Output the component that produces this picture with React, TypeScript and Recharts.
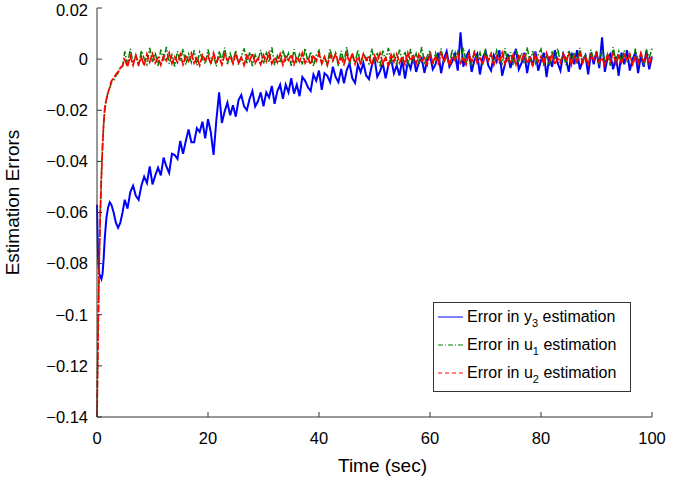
import { LineChart, Line, XAxis, YAxis, Legend, Label } from 'recharts'

// sample times (sec) – denser at the start where the errors move fast
const times = [
  0, 0.2, 0.4, 0.6, 0.8, 1, 1.2, 1.4, 1.7, 2, 2.3, 2.6, 3, 3.4, 3.8, 4.2, 4.6,
  5, 5.5, 6, 6.5, 7, 7.5, 8, 8.5, 9, 9.5,
  10, 10.5, 11, 11.5, 12, 12.5, 13, 13.5, 14, 14.5,
  15, 15.5, 16, 16.5, 17, 17.5, 18, 18.5, 19, 19.5,
  20, 20.5, 21, 21.5, 22, 22.5, 23, 23.5, 24, 24.5,
  25, 25.5, 26, 26.5, 27, 27.5, 28, 28.5, 29, 29.5,
  30, 30.5, 31, 31.5, 32, 32.5, 33, 33.5, 34, 34.5,
  35, 35.5, 36, 36.5, 37, 37.5, 38, 38.5, 39, 39.5,
  40, 40.5, 41, 41.5, 42, 42.5, 43, 43.5, 44, 44.5,
  45, 45.5, 46, 46.5, 47, 47.5, 48, 48.5, 49, 49.5,
  50, 50.5, 51, 51.5, 52, 52.5, 53, 53.5, 54, 54.5,
  55, 55.5, 56, 56.5, 57, 57.5, 58, 58.5, 59, 59.5,
  60, 60.5, 61, 61.5, 62, 62.5, 63, 63.5, 64, 64.5,
  65, 65.5, 66, 66.5, 67, 67.5, 68, 68.5, 69, 69.5,
  70, 70.5, 71, 71.5, 72, 72.5, 73, 73.5, 74, 74.5,
  75, 75.5, 76, 76.5, 77, 77.5, 78, 78.5, 79, 79.5,
  80, 80.5, 81, 81.5, 82, 82.5, 83, 83.5, 84, 84.5,
  85, 85.5, 86, 86.5, 87, 87.5, 88, 88.5, 89, 89.5,
  90, 90.5, 91, 91.5, 92, 92.5, 93, 93.5, 94, 94.5,
  95, 95.5, 96, 96.5, 97, 97.5, 98, 98.5, 99, 99.5,
  100,
]

// error in y3 estimation
const y3Err = [
  -0.057, -0.078, -0.084, -0.085, -0.086, -0.084, -0.078, -0.07, -0.062, -0.058, -0.056, -0.057, -0.06, -0.064, -0.066, -0.064, -0.06,
  -0.055, -0.0585, -0.052, -0.0495, -0.0535, -0.055, -0.0495, -0.046, -0.0485, -0.042,
  -0.049, -0.0455, -0.0425, -0.0455, -0.0385, -0.042, -0.0445, -0.037, -0.0375, -0.039,
  -0.032, -0.037, -0.032, -0.0275, -0.0325, -0.0325, -0.027, -0.0285, -0.0245, -0.031,
  -0.0235, -0.0285, -0.0375, -0.024, -0.013, -0.025, -0.0205, -0.017, -0.022, -0.018,
  -0.0225, -0.016, -0.014, -0.0185, -0.02, -0.0155, -0.0125, -0.0185, -0.0165, -0.013,
  -0.0185, -0.013, -0.015, -0.0105, -0.0175, -0.0125, -0.01, -0.0155, -0.01, -0.013,
  -0.0075, -0.0135, -0.01, -0.0145, -0.007, -0.0085, -0.011, -0.0125, -0.006, -0.0085,
  -0.0045, -0.012, -0.0055, -0.0065, -0.009, -0.003, -0.007, -0.009, -0.0038, -0.0095,
  -0.0043, -0.0017, -0.0075, -0.0093, -0.0022, -0.0051, -0.0015, -0.0064, -0.0078, -0.0027,
  0.0005, -0.0069, -0.0048, -0.0016, -0.0075, -0.0024, -0.0002, -0.0056, -0.0025, -0.0064,
  -0.0003, -0.0076, -0.001, -0.0038, 0.0014, -0.005, -0.0013, 0.0004, -0.0054, -0.0003,
  0.0015, -0.004, -0.002, 0.0025, -0.0055, 0, 0.003, -0.003, -0.001, 0.002,
  -0.0045, 0.0105, -0.003, 0.001, 0.003, -0.005, -0.0005, 0.002, -0.006, 0.0005,
  0.003, -0.0025, -0.0045, 0.0015, -0.001, 0.0035, -0.0065, -0.002, 0.002, -0.0035,
  0.0005, 0.004, -0.004, -0.0015, 0.0025, -0.0055, 0.001, -0.0025, 0.003, -0.0045,
  -0.0005, 0.0025, -0.007, 0.001, -0.003, 0.0035, -0.0015, -0.0045, 0.002, 0,
  -0.005, 0.0025, -0.002, 0.0035, -0.004, -0.0005, 0.0015, -0.006, 0.0025, -0.002,
  0.003, -0.0035, 0.0085, -0.005, 0.0005, 0.002, -0.004, 0.001, -0.0065, 0.0025,
  -0.002, 0.0035, -0.0045, 0, 0.0025, -0.0055, 0.0015, -0.003, 0.003, -0.004,
  0.001,
]

// error in u1 estimation
const u1Err = [
  -0.138, -0.105, -0.078, -0.059, -0.045, -0.034, -0.026, -0.02, -0.016, -0.0125, -0.0115, -0.009, -0.0085, -0.0065, -0.0055, -0.003, -0.003,
  0.003, -0.0022, 0.0041, -0.0015, 0.0012, -0.0027, 0.0033, 0.0002, -0.0021, 0.0044,
  -0.0011, 0.0025, -0.0026, 0.0037, -0.0006, 0.0048, -0.0018, 0.0016, -0.0029, 0.0031,
  -0.0008, 0.004, -0.0022, 0.002, -0.0013, 0.0035, -0.0025, 0.0028, 0.0001, -0.0019,
  0.0038, -0.0015, 0.0015, -0.0028, 0.0032, -0.0005, 0.0045, -0.002, 0.0022, -0.001,
  0.0034, -0.0023, 0.0008, 0.0042, -0.0016, 0.0026, -0.0027, 0.0017, -0.0007, 0.0036,
  -0.0019, 0.003, -0.0012, 0.0046, -0.0024, 0.0013, -0.0015, 0.0035, -0.0004, 0.0023,
  -0.0026, 0.0039, -0.0009, 0.002, -0.0021, 0.0043, -0.0013, 0.0029, -0.0028, 0.0015,
  0.0034, -0.0016, 0.001, -0.0023, 0.004, -0.0006, 0.0024, -0.0027, 0.0032, -0.001,
  0.0047, -0.002, 0.0016, -0.0014, 0.0036, -0.0024, 0.0021, 0.0004, -0.0018, 0.0041,
  -0.0012, 0.0027, -0.0028, 0.0033, -0.0007, 0.0044, -0.0017, 0.0018, -0.0022, 0.0037,
  -0.0004, 0.003, -0.0025, 0.004, -0.0011, 0.0022, -0.0019, 0.0048, -0.0014, 0.0012,
  0.0035, -0.0021, 0.0024, -0.0008, 0.0042, -0.0016, 0.0014, -0.0024, 0.0038, -0.0003,
  0.0029, -0.0018, 0.0045, -0.0012, 0.0019, -0.0027, 0.0037, -0.0005, 0.0026, -0.0022,
  0.0041, -0.0009, 0.0021, -0.0023, 0.0034, 0.0005, -0.0017, 0.0043, -0.0013, 0.0027,
  -0.0025, 0.0036, -0.0007, 0.0024, -0.002, 0.0046, -0.0011, 0.0031, -0.0016, 0.0018,
  0.0039, -0.0019, 0.0013, -0.0026, 0.003, -0.0004, 0.0042, -0.0014, 0.0022, -0.0023,
  0.0035, -0.0008, 0.0027, -0.0017, 0.0044, -0.0012, 0.0019, -0.0024, 0.0037, -0.0005,
  0.0025, -0.0022, 0.004, -0.001, 0.002, -0.0026, 0.0047, -0.0008, 0.003, -0.0015,
  0.0034, -0.0013, 0.0016, -0.0021, 0.0041, -0.0006, 0.0023, -0.0024, 0.0038, 0.0004,
  0.0042,
]

// error in u2 estimation
const u2Err = [
  -0.14, -0.108, -0.08, -0.06, -0.046, -0.034, -0.025, -0.019, -0.0155, -0.013, -0.011, -0.0085, -0.0075, -0.006, -0.005, -0.0035, -0.0025,
  -0.0002, -0.003, 0.0012, -0.0024, 0.0016, -0.0019, 0.0008, -0.0026, 0.002, -0.0012,
  0.0021, -0.0015, 0.0006, -0.0023, 0.0014, -0.0006, 0.0025, -0.0017, 0.0009, -0.0013,
  0.0019, -0.0021, 0.0011, -0.0008, 0.0023, -0.0016, 0.0005, -0.0025, 0.0016, -0.0006,
  0.0013, -0.0019, 0.0024, -0.0011, 0.0007, -0.0022, 0.0018, -0.0005, 0.001, -0.0018,
  0.0022, -0.0013, 0.0008, -0.0024, 0.0015, -0.0007, 0.0023, -0.0016, 0.0003, -0.0021,
  0.0016, -0.001, 0.0025, -0.0018, 0.0006, -0.0014, 0.002, -0.0023, 0.0011, -0.0005,
  0.0018, -0.0021, 0.0008, -0.0011, 0.0024, -0.0016, 0.0004, -0.002, 0.0015, -0.0008,
  0.0022, -0.0018, 0.0009, -0.0025, 0.0016, -0.0006, 0.002, -0.0013, 0.0005, -0.0021,
  0.0018, -0.0011, 0.0024, -0.0019, 0.0008, -0.0016, 0.0021, -0.0004, 0.0013, -0.0023,
  0.0015, -0.0008, 0.0023, -0.0018, 0.0006, -0.0024, 0.0017, -0.0011, 0.002, -0.0015,
  0.001, -0.0021, 0.0025, -0.0006, 0.0013, -0.0019, 0.0018, -0.001, 0.0005, -0.0023,
  0.002, -0.0013, 0.0008, -0.0018, 0.0023, -0.0008, 0.0015, -0.0025, 0.0011, -0.0004,
  0.0021, -0.0016, 0.0006, -0.0021, 0.0018, -0.001, 0.0024, -0.0015, 0.0004, -0.0019,
  0.0016, -0.0006, 0.002, -0.0023, 0.001, -0.0013, 0.0025, -0.0018, 0.0008, -0.0011,
  0.0018, -0.0021, 0.0013, -0.0004, 0.0023, -0.0016, 0.0006, -0.0024, 0.002, -0.001,
  0.0011, -0.0018, 0.0024, -0.0008, 0.0016, -0.0021, 0.0004, -0.0015, 0.0021, -0.0006,
  0.0018, -0.0023, 0.001, -0.0011, 0.0025, -0.0016, 0.0008, -0.002, 0.0015, -0.0004,
  0.0021, -0.0013, 0.0006, -0.0024, 0.0018, -0.0008, 0.0023, -0.0018, 0.0011, -0.0015,
  0.0016, -0.0006, 0.002, -0.0021, 0.0008, -0.0016, 0.0024, -0.0011, 0.0013, -0.0019,
  0.0014,
]

const xTicks = [0, 20, 40, 60, 80, 100]
const yTicks = [-0.14, -0.12, -0.1, -0.08, -0.06, -0.04, -0.02, 0, 0.02]

const legendItems = [
  { key: 'y3', base: 'y', sub: '3', color: '#0000ff', dash: undefined },
  { key: 'u1', base: 'u', sub: '1', color: '#008000', dash: '5 2 1 2' },
  { key: 'u2', base: 'u', sub: '2', color: '#ff0000', dash: '4 3' },
]

const FONT = '"Liberation Sans", Arial, Helvetica, sans-serif'
const AXIS = '#333333'

const data = times.map((t, i) => ({ t, y3: y3Err[i], u1: u1Err[i], u2: u2Err[i] }))

const fmtY = (v: number) => (v < 0 ? '\u2212' + String(Math.abs(v)) : String(v))

function YTitle({ viewBox }: any) {
  const x = viewBox.x + 19
  const y = viewBox.y + viewBox.height / 2 - 10
  return (
    <text x={x} y={y} transform={`rotate(-90, ${x}, ${y})`} textAnchor="middle" fontSize={19} fontFamily={FONT} fill="#000">
      Estimation Errors
    </text>
  )
}

function XTitle({ viewBox }: any) {
  const x = viewBox.x + viewBox.width / 2 + 8
  const y = viewBox.y + 55
  return (
    <text x={x} y={y} textAnchor="middle" fontSize={19} fontFamily={FONT} fill="#000">
      Time (sec)
    </text>
  )
}

function LegendBox() {
  return (
    <div
      style={{
        width: 198,
        height: 90,
        boxSizing: 'border-box',
        border: `1px solid ${AXIS}`,
        background: '#fff',
        fontFamily: FONT,
        fontSize: 16,
        color: '#000',
      }}
    >
      {legendItems.map(item => (
        <div key={item.key} style={{ display: 'flex', alignItems: 'center', height: 28, lineHeight: '28px', whiteSpace: 'nowrap' }}>
          <svg width={33} height={10} style={{ flex: 'none' }}>
            <line x1={4} x2={29} y1={5} y2={5} stroke={item.color} strokeWidth={1} strokeDasharray={item.dash} />
          </svg>
          <span>
            Error in {item.base}
            <span style={{ fontSize: 11, position: 'relative', top: 5 }}>{item.sub}</span> estimation
          </span>
        </div>
      ))}
    </div>
  )
}

export default function App() {
  return (
    <div style={{ width: 695, height: 482, background: '#fff' }}>
      <style>{'body { margin: 0; } .recharts-surface { overflow: visible; }'}</style>
      <LineChart width={695} height={482} data={data} margin={{ top: 8, right: 43, bottom: 0, left: 0 }}>
        <XAxis
          xAxisId="b"
          dataKey="t"
          type="number"
          domain={[0, 100]}
          ticks={xTicks}
          height={65}
          stroke={AXIS}
          tickSize={-5}
          tickMargin={20}
          tick={{ fill: '#000', fontSize: 16.5, fontFamily: FONT }}
        >
          <Label content={<XTitle />} />
        </XAxis>
        <XAxis xAxisId="top" orientation="top" dataKey="t" type="number" domain={[0, 100]} ticks={xTicks} height={0} stroke={AXIS} tickSize={-5} tick={false} />
        <YAxis
          yAxisId="l"
          type="number"
          domain={[-0.14, 0.02]}
          ticks={yTicks}
          width={97}
          stroke={AXIS}
          tickSize={-5}
          tickMargin={14}
          tickFormatter={fmtY}
          tick={{ fill: '#000', fontSize: 16.5, fontFamily: FONT }}
        >
          <Label content={<YTitle />} />
        </YAxis>
        <YAxis yAxisId="r" orientation="right" type="number" domain={[-0.14, 0.02]} ticks={yTicks} width={0} stroke={AXIS} tickSize={-5} tick={false} />
        <Line xAxisId="b" yAxisId="l" type="linear" dataKey="y3" stroke="#0000ff" strokeWidth={2} strokeLinejoin="miter" dot={false} isAnimationActive={false} />
        <Line xAxisId="b" yAxisId="l" type="linear" dataKey="u1" stroke="#008000" strokeWidth={1.5} strokeDasharray="7 2 1.5 2" dot={false} isAnimationActive={false} />
        <Line xAxisId="b" yAxisId="l" type="linear" dataKey="u2" stroke="#ff0000" strokeWidth={1.7} strokeDasharray="8 1.5" dot={false} isAnimationActive={false} />
        <Legend layout="vertical" align="center" verticalAlign="middle" wrapperStyle={{ left: 433, top: 302, width: 198 }} content={<LegendBox />} />
      </LineChart>
    </div>
  )
}
